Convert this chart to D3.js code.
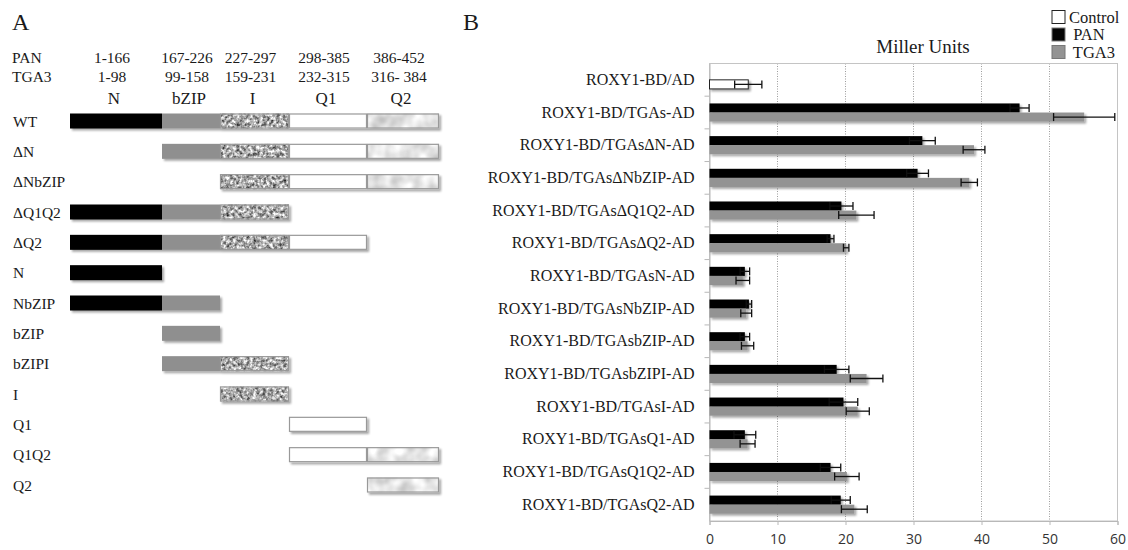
<!DOCTYPE html>
<html>
<head>
<meta charset="utf-8">
<script src="https://cdn.jsdelivr.net/npm/d3@7"></script>
<style>
  body { margin: 0; background: #fff; }
  svg { display: block; }
</style>
</head>
<body>
<script>
// ---- Panel A: domain maps ----
const domains = ["N", "bZIP", "I", "Q1", "Q2"];
const panRanges = ["1-166", "167-226", "227-297", "298-385", "386-452"];
const tga3Ranges = ["1-98", "99-158", "159-231", "232-315", "316- 384"];
const panBounds = [1, 167, 227, 298, 386, 453];
const constructs = ["WT", "ΔN", "ΔNbZIP", "ΔQ1Q2", "ΔQ2", "N", "NbZIP", "bZIP", "bZIPI", "I", "Q1", "Q1Q2", "Q2"];
const constructDomains = [
  ["N", "bZIP", "I", "Q1", "Q2"],
  ["bZIP", "I", "Q1", "Q2"],
  ["I", "Q1", "Q2"],
  ["N", "bZIP", "I"],
  ["N", "bZIP", "I", "Q1"],
  ["N"],
  ["N", "bZIP"],
  ["bZIP"],
  ["bZIP", "I"],
  ["I"],
  ["Q1"],
  ["Q1", "Q2"],
  ["Q2"]
];

// ---- Panel B: Miller units ----
const categories = [
  "ROXY1-BD/AD", "ROXY1-BD/TGAs-AD", "ROXY1-BD/TGAsΔN-AD", "ROXY1-BD/TGAsΔNbZIP-AD",
  "ROXY1-BD/TGAsΔQ1Q2-AD", "ROXY1-BD/TGAsΔQ2-AD", "ROXY1-BD/TGAsN-AD", "ROXY1-BD/TGAsNbZIP-AD",
  "ROXY1-BD/TGAsbZIP-AD", "ROXY1-BD/TGAsbZIPI-AD", "ROXY1-BD/TGAsI-AD", "ROXY1-BD/TGAsQ1-AD",
  "ROXY1-BD/TGAsQ1Q2-AD", "ROXY1-BD/TGAsQ2-AD"
];
const controlValues = [5.7, null, null, null, null, null, null, null, null, null, null, null, null, null];
const controlErrors = [2.0, null, null, null, null, null, null, null, null, null, null, null, null, null];
const panValues = [null, 45.6, 31.3, 30.6, 19.4, 17.8, 5.2, 5.8, 5.2, 18.7, 19.7, 5.2, 17.8, 19.3];
const panErrors = [null, 1.4, 1.9, 1.6, 1.7, 0.5, 0.7, 0.4, 0.7, 1.8, 2.1, 1.6, 1.5, 1.4];
const tga3Values = [null, 55.1, 38.9, 38.2, 21.6, 20.1, 4.9, 5.4, 5.6, 23.1, 21.8, 5.6, 20.2, 21.3];
const tga3Errors = [null, 4.5, 1.6, 1.2, 2.6, 0.4, 1.0, 0.8, 0.9, 2.4, 1.7, 1.1, 1.8, 1.9];
const xTicks = [0, 10, 20, 30, 40, 50, 60];
const legendItems = ["Control", " PAN", " TGA3"];

const width = 1128;
const height = 550;
const serif = "'Liberation Serif', 'DejaVu Serif', serif";

const svg = d3.select("body").append("svg")
  .attr("width", width)
  .attr("height", height);

const defs = svg.append("defs");

// textured fill for the I domain
const mottle = defs.append("filter").attr("id", "mottle")
  .attr("x", 0).attr("y", 0).attr("width", 1).attr("height", 1)
  .attr("color-interpolation-filters", "sRGB");
mottle.append("feTurbulence").attr("type", "fractalNoise")
  .attr("baseFrequency", 0.3).attr("numOctaves", 3).attr("seed", 4).attr("result", "noise");
mottle.append("feColorMatrix").attr("in", "noise").attr("type", "matrix")
  .attr("values", "1.4 0 0 0 -0.03  1.4 0 0 0 -0.03  1.4 0 0 0 -0.03  0 0 0 0 1")
  .attr("result", "gray");
mottle.append("feComposite").attr("in", "gray").attr("in2", "SourceGraphic").attr("operator", "in");

// light cloudy fill for Q2
const cloud = defs.append("filter").attr("id", "cloud")
  .attr("x", 0).attr("y", 0).attr("width", 1).attr("height", 1)
  .attr("color-interpolation-filters", "sRGB");
cloud.append("feTurbulence").attr("type", "fractalNoise")
  .attr("baseFrequency", 0.07).attr("numOctaves", 2).attr("seed", 9).attr("result", "noise");
cloud.append("feColorMatrix").attr("in", "noise").attr("type", "matrix")
  .attr("values", "0.45 0 0 0 0.68  0.45 0 0 0 0.68  0.45 0 0 0 0.68  0 0 0 0 1")
  .attr("result", "gray");
cloud.append("feComposite").attr("in", "gray").attr("in2", "SourceGraphic").attr("operator", "in");

// soft drop shadow like the office chart
const shadow = defs.append("filter").attr("id", "shadow")
  .attr("x", "-5%").attr("y", "-30%").attr("width", "115%").attr("height", "180%");
shadow.append("feGaussianBlur").attr("in", "SourceAlpha").attr("stdDeviation", 1.3).attr("result", "blur");
shadow.append("feOffset").attr("in", "blur").attr("dx", 1.5).attr("dy", 2).attr("result", "off");
shadow.append("feComponentTransfer").attr("in", "off").attr("result", "soft")
  .append("feFuncA").attr("type", "linear").attr("slope", 0.35);
const merge = shadow.append("feMerge");
merge.append("feMergeNode").attr("in", "soft");
merge.append("feMergeNode").attr("in", "SourceGraphic");

// ================= Panel A =================
const panelA = svg.append("g").attr("font-family", serif).attr("fill", "#1a1a1a");

panelA.append("text").attr("x", 12).attr("y", 30).attr("font-size", 24).text("A");

const res = d3.scaleLinear().domain(panBounds).range([70, 162, 220, 289, 367, 439]);
const domainSpan = d => {
  const i = domains.indexOf(d);
  return [res(panBounds[i]), res(panBounds[i + 1])];
};
const rowY = d3.scalePoint().domain(constructs).range([121, 485]);

const headerRows = [["PAN", panRanges, 63], ["TGA3", tga3Ranges, 82]];
headerRows.forEach(([name, ranges, yy]) => {
  panelA.append("text").attr("x", 12).attr("y", yy).attr("font-size", 15.5).text(name);
  panelA.selectAll(null).data(ranges).join("text")
    .attr("x", (d, i) => d3.mean(domainSpan(domains[i])) - 4)
    .attr("y", yy)
    .attr("text-anchor", "middle")
    .attr("font-size", 15.5)
    .text(d => d);
});
panelA.selectAll(null).data(domains).join("text")
  .attr("x", d => d3.mean(domainSpan(d)) - 2)
  .attr("y", 104)
  .attr("text-anchor", "middle")
  .attr("font-size", 17)
  .text(d => d);

const fills = { N: "#050505", bZIP: "#8f8f8f", I: "#000", Q1: "#fff", Q2: "#000" };
const filters = { I: "url(#mottle)", Q2: "url(#cloud)" };

constructs.forEach((c, ci) => {
  const yy = rowY(c);
  panelA.append("text").attr("x", 13).attr("y", yy + 5.5).attr("font-size", 15.5).text(c);
  const row = panelA.append("g").attr("filter", "url(#shadow)");
  constructDomains[ci].forEach(d => {
    const [x0, x1] = domainSpan(d);
    row.append("rect")
      .attr("x", x0).attr("y", yy - 7.5)
      .attr("width", x1 - x0).attr("height", 15)
      .attr("fill", fills[d])
      .attr("filter", filters[d] || null);
    if (d === "I" || d === "Q1" || d === "Q2") {
      row.append("rect")
        .attr("x", x0 + 0.5).attr("y", yy - 7)
        .attr("width", x1 - x0 - 1).attr("height", 14)
        .attr("fill", "none")
        .attr("stroke", "#999")
        .attr("stroke-width", 1.2);
    }
  });
});

// ================= Panel B =================
const panelB = svg.append("g");

panelB.append("text").attr("x", 463).attr("y", 30)
  .attr("font-family", serif).attr("font-size", 24).attr("fill", "#1a1a1a").text("B");

const x = d3.scaleLinear().domain([0, 60]).range([709.5, 1117.5]);
const y = d3.scaleBand().domain(categories).range([63.5, 521]);
const ySub = d3.scaleBand().domain(["PAN", "TGA3"]).range([0, y.bandwidth()])
  .paddingInner(0).paddingOuter(0.8);

// gridlines
panelB.selectAll(".grid").data(xTicks.slice(1, -1)).join("line")
  .attr("class", "grid")
  .attr("x1", d => x(d)).attr("x2", d => x(d))
  .attr("y1", 63.5).attr("y2", 521)
  .attr("stroke", "#9c9c9c")
  .attr("stroke-width", 1)
  .attr("stroke-dasharray", "1,1.5");

// plot frame
panelB.append("rect")
  .attr("x", x(0)).attr("y", 63.5)
  .attr("width", x(60) - x(0)).attr("height", 521 - 63.5)
  .attr("fill", "none").attr("stroke", "#c4c4c4");

// title
panelB.append("text").attr("x", 923).attr("y", 53)
  .attr("text-anchor", "middle")
  .attr("font-family", serif).attr("font-size", 19).attr("fill", "#1a1a1a")
  .text("Miller Units");

// y axis labels
const yAxis = panelB.append("g")
  .attr("transform", `translate(${x(0)},0)`)
  .call(d3.axisLeft(y).tickSize(0).tickPadding(15));
yAxis.select(".domain").attr("stroke", "#b8b8b8");
yAxis.selectAll("text")
  .attr("font-family", serif).attr("font-size", 16).attr("fill", "#1a1a1a");

// category boundary ticks
panelB.selectAll(".ytick").data(categories.slice(1)).join("line")
  .attr("class", "ytick")
  .attr("x1", x(0) - 5).attr("x2", x(0))
  .attr("y1", d => y(d)).attr("y2", d => y(d))
  .attr("stroke", "#b8b8b8");

// x axis
const xAxis = panelB.append("g")
  .attr("transform", "translate(0,521)")
  .call(d3.axisBottom(x).tickValues(xTicks).tickSize(4).tickPadding(9));
xAxis.select(".domain").attr("stroke", "#b8b8b8");
xAxis.selectAll(".tick line").attr("stroke", "#b8b8b8");
xAxis.selectAll("text")
  .attr("font-family", "'Open Sans', 'Liberation Sans', sans-serif")
  .attr("font-size", 14).attr("fill", "#333");

// bars
const bars = panelB.append("g").attr("filter", "url(#shadow)");
const barH = ySub.bandwidth();

function drawSeries(values, slot, fill, stroke) {
  bars.selectAll(null)
    .data(categories.map((c, i) => ({ c, v: values[i] })).filter(d => d.v != null))
    .join("rect")
    .attr("x", x(0))
    .attr("y", d => y(d.c) + ySub(slot))
    .attr("width", d => x(d.v) - x(0))
    .attr("height", barH)
    .attr("fill", fill)
    .attr("stroke", stroke)
    .attr("stroke-width", stroke === "none" ? 0 : 1);
}
drawSeries(controlValues, "TGA3", "#fff", "#222");
drawSeries(panValues, "PAN", "#050505", "none");
drawSeries(tga3Values, "TGA3", "#939393", "none");

// error bars
const errG = panelB.append("g").attr("stroke", "#111").attr("stroke-width", 1.3);
function drawErrors(values, errors, slot) {
  categories.forEach((c, i) => {
    if (values[i] == null) return;
    const cy = y(c) + ySub(slot) + barH / 2;
    const lo = x(values[i] - errors[i]);
    const hi = x(values[i] + errors[i]);
    errG.append("line").attr("x1", lo).attr("x2", hi).attr("y1", cy).attr("y2", cy);
    [lo, hi].forEach(px => {
      errG.append("line").attr("x1", px).attr("x2", px).attr("y1", cy - 4).attr("y2", cy + 4);
    });
  });
}
drawErrors(controlValues, controlErrors, "TGA3");
drawErrors(panValues, panErrors, "PAN");
drawErrors(tga3Values, tga3Errors, "TGA3");

// legend
const legendFills = ["#fff", "#050505", "#939393"];
const legend = panelB.append("g").attr("transform", "translate(1052,0)");
legendItems.forEach((name, i) => {
  const cy = 17 + i * 17.5;
  legend.append("rect")
    .attr("x", 0).attr("y", cy - 6.5)
    .attr("width", 13).attr("height", 13)
    .attr("fill", legendFills[i])
    .attr("stroke", i === 0 ? "#222" : "#777")
    .attr("stroke-width", 1);
  legend.append("text")
    .attr("x", 17).attr("y", cy + 5.5)
    .attr("font-family", serif).attr("font-size", 16.5).attr("fill", "#1a1a1a")
    .attr("xml:space", "preserve")
    .style("white-space", "pre")
    .text(name);
});
</script>
</body>
</html>
